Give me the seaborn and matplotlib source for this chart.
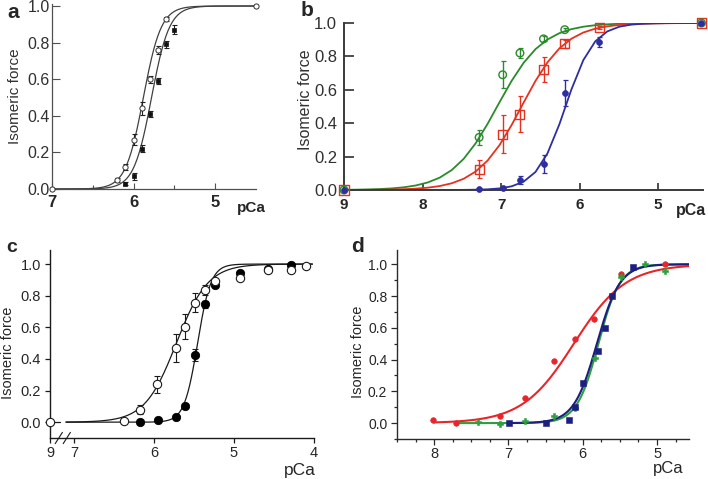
import numpy as np
import matplotlib
matplotlib.use("Agg")
import matplotlib.pyplot as plt
import seaborn as sns
from matplotlib.ticker import MultipleLocator, FixedLocator
import matplotlib.transforms as mtrans

# ---------------- data ----------------
# panel a
a_open_pca = [7.0, 6.2, 6.1, 6.0, 5.9, 5.8, 5.7, 5.6, 4.5]
a_open_force = [0.0, 0.05, 0.12, 0.27, 0.44, 0.60, 0.76, 0.93, 1.0]
a_open_err = [0.0, 0.01, 0.015, 0.03, 0.035, 0.02, 0.02, 0.01, 0.0]
a_fill_pca = [6.1, 6.0, 5.9, 5.8, 5.7, 5.6, 5.5]
a_fill_force = [0.03, 0.07, 0.22, 0.41, 0.59, 0.79, 0.87]
a_fill_err = [0.01, 0.02, 0.02, 0.015, 0.015, 0.02, 0.025]
a_fit_pca50 = [5.88, 5.78]
a_fit_nh = [4.0, 4.0]

# panel b
b_pca = [9.0, 7.28, 6.98, 6.76, 6.46, 6.19, 5.75, 4.45]
b_green = [0.0, 0.315, 0.69, 0.82, 0.905, 0.96, None, 1.0]
b_green_err = [0.0, 0.045, 0.08, 0.03, 0.015, 0.01, None, 0.0]
b_red = [0.0, 0.125, 0.335, 0.455, 0.72, 0.875, 0.975, 1.0]
b_red_err = [0.0, 0.055, 0.115, 0.105, 0.075, 0.025, 0.01, 0.0]
b_blue = [0.0, 0.004, 0.01, 0.06, 0.155, 0.58, 0.885, 1.0]
b_blue_err = [0.0, 0.0, 0.005, 0.025, 0.055, 0.08, 0.03, 0.0]
b_fit_pca50 = [7.05, 6.74, 6.18]   # green, red, blue
b_fit_nh = [1.5, 1.55, 2.4]

# panel c
c_pca = [9.0, 6.37, 6.17, 5.96, 5.73, 5.61, 5.49, 5.36, 5.24, 4.93, 4.58, 4.29, 4.10]
c_open = [0.0, 0.01, 0.08, 0.24, 0.47, 0.605, 0.755, 0.835, 0.89, 0.915, 0.96, 0.965, 0.99]
c_open_err = [0.0, 0.0, 0.03, 0.055, 0.09, 0.08, 0.06, 0.03, 0.01, 0.0, 0.0, 0.0, 0.0]
c_fill_pca = [6.17, 5.95, 5.73, 5.61, 5.49, 5.36, 5.24, 4.93, 4.58, 4.29]
c_fill = [0.003, 0.013, 0.03, 0.10, 0.425, 0.745, 0.87, 0.945, 0.97, 0.995]
c_fill_err = [0.0, 0.0, 0.0, 0.0, 0.04, 0.02, 0.01, 0.0, 0.0, 0.0]
c_fit_pca50 = [5.72, 5.455]   # open, filled
c_fit_nh = [2.2, 5.2]
c_fit_range = (7.1, 4.02)

# panel d
d_red_pca = [8.01, 7.71, 7.11, 6.78, 6.39, 6.11, 5.85, 5.49, 4.89]
d_red = [0.02, 0.002, 0.044, 0.16, 0.39, 0.53, 0.655, 0.94, 1.0]
d_green_pca = [7.41, 7.11, 6.78, 6.39, 6.11, 5.84, 5.49, 5.16, 4.89]
d_green = [0.008, -0.003, 0.015, 0.045, 0.095, 0.41, 0.92, 1.0, 0.96]
d_blue_pca = [6.99, 6.50, 6.19, 6.10, 6.00, 5.80, 5.70, 5.60, 5.32]
d_blue = [0.0, 0.0, 0.02, 0.10, 0.25, 0.455, 0.60, 0.80, 0.985]
d_fit_pca50 = [6.12, 5.79, 5.81]   # red, green, blue
d_fit_nh = [1.25, 3.0, 2.8]
d_fit_start = [8.0, 7.7, 7.0]


def hill(p, p50, n):
    p = np.asarray(p, dtype=float)
    return 1.0 / (1.0 + 10.0 ** (n * (p - p50)))


# ---------------- style ----------------
sns.set_theme(style="ticks")
plt.rcParams["font.family"] = ["Liberation Sans", "DejaVu Sans"]
plt.rcParams["axes.linewidth"] = 1.0

W, H = 708, 479
fig = plt.figure(figsize=(W / 100, H / 100), dpi=100)


def rect(l, t, r, b):
    return [l / W, 1 - b / H, (r - l) / W, (b - t) / H]


def style_axes(ax, spine_color, lw, direction):
    for s in ["top", "right"]:
        ax.spines[s].set_visible(False)
    for s in ["left", "bottom"]:
        ax.spines[s].set_color(spine_color)
        ax.spines[s].set_linewidth(lw)
    ax.tick_params(which="both", direction=direction, color=spine_color,
                   width=lw * 0.9)
    ax.grid(False)


def label_coords(ax, axis, x, y):
    lab = ax.yaxis if axis == "y" else ax.xaxis
    lab.set_label_coords(x, y)
    lab.label.set_va("center")
    lab.label.set_ha("center")


# ---------------- panel a ----------------
ax = fig.add_axes(rect(52, 4, 256, 189))
style_axes(ax, "#505050", 0.9, "in")
grid_a = np.linspace(7.0, 4.5, 300)
for p50, n in zip(a_fit_pca50, a_fit_nh):
    sns.lineplot(x=grid_a, y=hill(grid_a, p50, n), ax=ax, color="#404040",
                 linewidth=0.9, estimator=None, sort=False)
ax.errorbar(a_open_pca, a_open_force, yerr=a_open_err, fmt="none",
            ecolor="#202020", elinewidth=0.8, capsize=1.8, capthick=0.8, zorder=3)
ax.errorbar(a_fill_pca, a_fill_force, yerr=a_fill_err, fmt="none",
            ecolor="#202020", elinewidth=0.8, capsize=1.8, capthick=0.8, zorder=3)
sns.scatterplot(x=a_open_pca, y=a_open_force, ax=ax, marker="o", s=14,
                facecolor="white", edgecolor="#303030", linewidth=0.7,
                zorder=4, clip_on=False)
sns.scatterplot(x=a_fill_pca, y=a_fill_force, ax=ax, marker="s", s=11,
                color="#111111", edgecolor="#111111", linewidth=0.5,
                zorder=4, clip_on=False)
ax.set_xlim(7.0, 4.5)
ax.set_ylim(0.0, 1.011)
ax.xaxis.set_major_locator(FixedLocator([7, 6, 5]))
ax.xaxis.set_minor_locator(FixedLocator([6.5, 5.5]))
ax.yaxis.set_major_locator(FixedLocator([0.0, 0.2, 0.4, 0.6, 0.8, 1.0]))
ax.set_xticklabels(["7", "6", "5"], fontweight="bold", fontsize=12)
ax.tick_params(axis="x", which="major", length=4, pad=4)
ax.tick_params(axis="x", which="minor", length=3)
ax.tick_params(axis="y", length=6, labelsize=11.5, pad=1.5)
ax.set_yticklabels(["0.0", "0.2", "0.4", "0.6", "0.8", "1.0"])
for t in ax.get_yticklabels():
    t.set_color("#303030")
ax.set_ylabel("Isomeric force", fontsize=11, color="#303030")
label_coords(ax, "y", -0.18, 0.50)
ax.set_xlabel("pCa", fontsize=11, fontweight="bold")
label_coords(ax, "x", 0.975, -0.105)

# ---------------- panel b ----------------
ax = fig.add_axes(rect(344, 23, 703, 190))
style_axes(ax, "#3a3a3a", 1.4, "in")
grid_b = np.linspace(9.0, 4.43, 31)
b_cols = ["#2b8a2b", "#e5321f", "#2e2ea0"]
for p50, n, col in zip(b_fit_pca50, b_fit_nh, b_cols):
    sns.lineplot(x=grid_b, y=hill(grid_b, p50, n), ax=ax, color=col,
                 linewidth=1.3, estimator=None, sort=False)


def clean(xs, ys, es):
    out = [(x, y, e) for x, y, e in zip(xs, ys, es) if y is not None]
    return [o[0] for o in out], [o[1] for o in out], [o[2] for o in out]


bg = clean(b_pca, b_green, b_green_err)
br = clean(b_pca, b_red, b_red_err)
bb = clean(b_pca, b_blue, b_blue_err)
for (xs, ys, es), col in zip([bg, br, bb], b_cols):
    ax.errorbar(xs, ys, yerr=es, fmt="none", ecolor=col, elinewidth=1.0,
                capsize=1.8, capthick=0.9, zorder=3)
sns.scatterplot(x=br[0], y=br[1], ax=ax, marker="s", s=42, facecolor="none",
                edgecolor=b_cols[1], linewidth=1.0, zorder=4, clip_on=False)
sns.scatterplot(x=bg[0], y=bg[1], ax=ax, marker="o", s=30, facecolor="none",
                edgecolor=b_cols[0], linewidth=1.0, zorder=5, clip_on=False)
sns.scatterplot(x=bb[0], y=bb[1], ax=ax, marker="o", s=18, color=b_cols[2],
                edgecolor=b_cols[2], linewidth=0.5, zorder=5, clip_on=False)
ax.set_xlim(9.0, 4.43)
ax.set_ylim(0.0, 1.0)
ax.xaxis.set_major_locator(FixedLocator([9, 8, 7, 6, 5]))
ax.yaxis.set_major_locator(FixedLocator([0.0, 0.2, 0.4, 0.6, 0.8, 1.0]))
ax.set_xticklabels(["9", "8", "7", "6", "5"], fontweight="bold", fontsize=11)
ax.set_yticklabels(["0.0", "0.2", "0.4", "0.6", "0.8", "1.0"])
ax.tick_params(axis="x", length=5, pad=6)
ax.tick_params(axis="y", length=7, labelsize=12, pad=5)
for t in ax.get_yticklabels():
    t.set_color("#303030")
ax.set_ylabel("Isomeric force", fontsize=11.5, color="#303030")
label_coords(ax, "y", -0.106, 0.54)
ax.set_xlabel("pCa", fontsize=11.5, fontweight="bold")
label_coords(ax, "x", 0.966, -0.125)

# ---------------- panel c ----------------
BREAK_POS = 7.3   # display position of pCa 9 on the broken axis


def c_disp(p):
    p = np.asarray(p, dtype=float)
    return np.where(p > 8.0, BREAK_POS, p)


ax = fig.add_axes(rect(50, 250, 314, 438))
style_axes(ax, "#1a1a1a", 1.0, "out")
grid_c = np.linspace(c_fit_range[0], c_fit_range[1], 300)
for p50, n in zip(c_fit_pca50, c_fit_nh):
    sns.lineplot(x=grid_c, y=hill(grid_c, p50, n), ax=ax, color="#1a1a1a",
                 linewidth=0.9, estimator=None, sort=False)
ax.plot([BREAK_POS, BREAK_POS - 0.13], [0, 0], color="#1a1a1a", lw=0.9)
ax.errorbar(c_disp(c_pca), c_open, yerr=c_open_err, fmt="none",
            ecolor="#1a1a1a", elinewidth=0.8, capsize=2.5, capthick=0.8, zorder=3)
ax.errorbar(c_fill_pca, c_fill, yerr=c_fill_err, fmt="none",
            ecolor="#1a1a1a", elinewidth=0.8, capsize=2.5, capthick=0.8, zorder=3)
sns.scatterplot(x=c_fill_pca, y=c_fill, ax=ax, marker="o", s=36,
                color="black", edgecolor="black", linewidth=0.6, zorder=4,
                clip_on=False)
sns.scatterplot(x=c_disp(c_pca), y=c_open, ax=ax, marker="o", s=36,
                facecolor="white", edgecolor="#1a1a1a", linewidth=0.8,
                zorder=5, clip_on=False)
ax.set_xlim(BREAK_POS, 4.0)
ax.set_ylim(-0.1, 1.089)
ax.xaxis.set_major_locator(FixedLocator([BREAK_POS, 7, 6, 5, 4]))
ax.set_xticklabels(["9", "7", "6", "5", "4"], fontsize=10.5)
ax.yaxis.set_major_locator(FixedLocator([0.0, 0.2, 0.4, 0.6, 0.8, 1.0]))
ax.set_yticklabels(["0.0", "0.2", "0.4", "0.6", "0.8", "1.0"], fontsize=10.5)
ax.tick_params(axis="both", length=3.5, pad=3)
ax.tick_params(axis="x", pad=2)
# break marks
trans = mtrans.blended_transform_factory(ax.transData, ax.transAxes)
for xb in [7.19, 7.09]:
    ax.plot([xb + 0.045, xb - 0.045], [-0.03, 0.03], transform=trans,
            color="#1a1a1a", lw=0.8, clip_on=False)
ax.set_ylabel("Isomeric force", fontsize=10.5)
label_coords(ax, "y", -0.158, 0.452)
ax.set_xlabel("pCa", fontsize=12.5)
label_coords(ax, "x", 0.945, -0.175)

# ---------------- panel d ----------------
ax = fig.add_axes(rect(397, 250, 689, 439))
style_axes(ax, "#2a2a2a", 1.0, "out")
d_cols = ["#e8262a", "#2ca03c", "#1c1f80"]
for p50, n, x0, col in zip(d_fit_pca50, d_fit_nh, d_fit_start, d_cols):
    g = np.linspace(x0, 4.57, 300)
    sns.lineplot(x=g, y=hill(g, p50, n), ax=ax, color=col, linewidth=1.5,
                 estimator=None, sort=False)
sns.scatterplot(x=d_red_pca, y=d_red, ax=ax, marker="o", s=16, color=d_cols[0],
                edgecolor=d_cols[0], linewidth=0.5, zorder=4)
sns.scatterplot(x=d_green_pca, y=d_green, ax=ax, marker="P", s=22,
                color=d_cols[1], edgecolor=d_cols[1], linewidth=0.4, zorder=4)
sns.scatterplot(x=d_blue_pca, y=d_blue, ax=ax, marker="s", s=14,
                color=d_cols[2], edgecolor=d_cols[2], linewidth=0.4, zorder=4)
ax.set_xlim(8.5, 4.57)
ax.set_ylim(-0.1, 1.09)
ax.xaxis.set_major_locator(FixedLocator([8, 7, 6, 5]))
ax.xaxis.set_minor_locator(MultipleLocator(0.25))
ax.yaxis.set_major_locator(FixedLocator([0.0, 0.2, 0.4, 0.6, 0.8, 1.0]))
ax.yaxis.set_minor_locator(MultipleLocator(0.1))
ax.set_xticklabels(["8", "7", "6", "5"], fontsize=10.5)
ax.set_yticklabels(["0.0", "0.2", "0.4", "0.6", "0.8", "1.0"], fontsize=10)
ax.tick_params(axis="both", which="major", length=4, pad=3)
ax.tick_params(axis="x", which="major", pad=1.5)
ax.tick_params(axis="both", which="minor", length=2.5)
ax.set_ylabel("Isomeric force", fontsize=10.5)
label_coords(ax, "y", -0.135, 0.46)
ax.set_xlabel("pCa", fontsize=12)
label_coords(ax, "x", 0.93, -0.155)

# ---------------- panel letters ----------------
for txt, px, py, fs in [("a", 13, 12, 15), ("b", 307, 11, 15),
                        ("c", 12, 247, 14), ("d", 357, 247, 15)]:
    fig.text(px / W, 1 - py / H, txt, fontsize=fs, fontweight="bold",
             ha="center", va="center")

fig.savefig("out.png", dpi=100)
